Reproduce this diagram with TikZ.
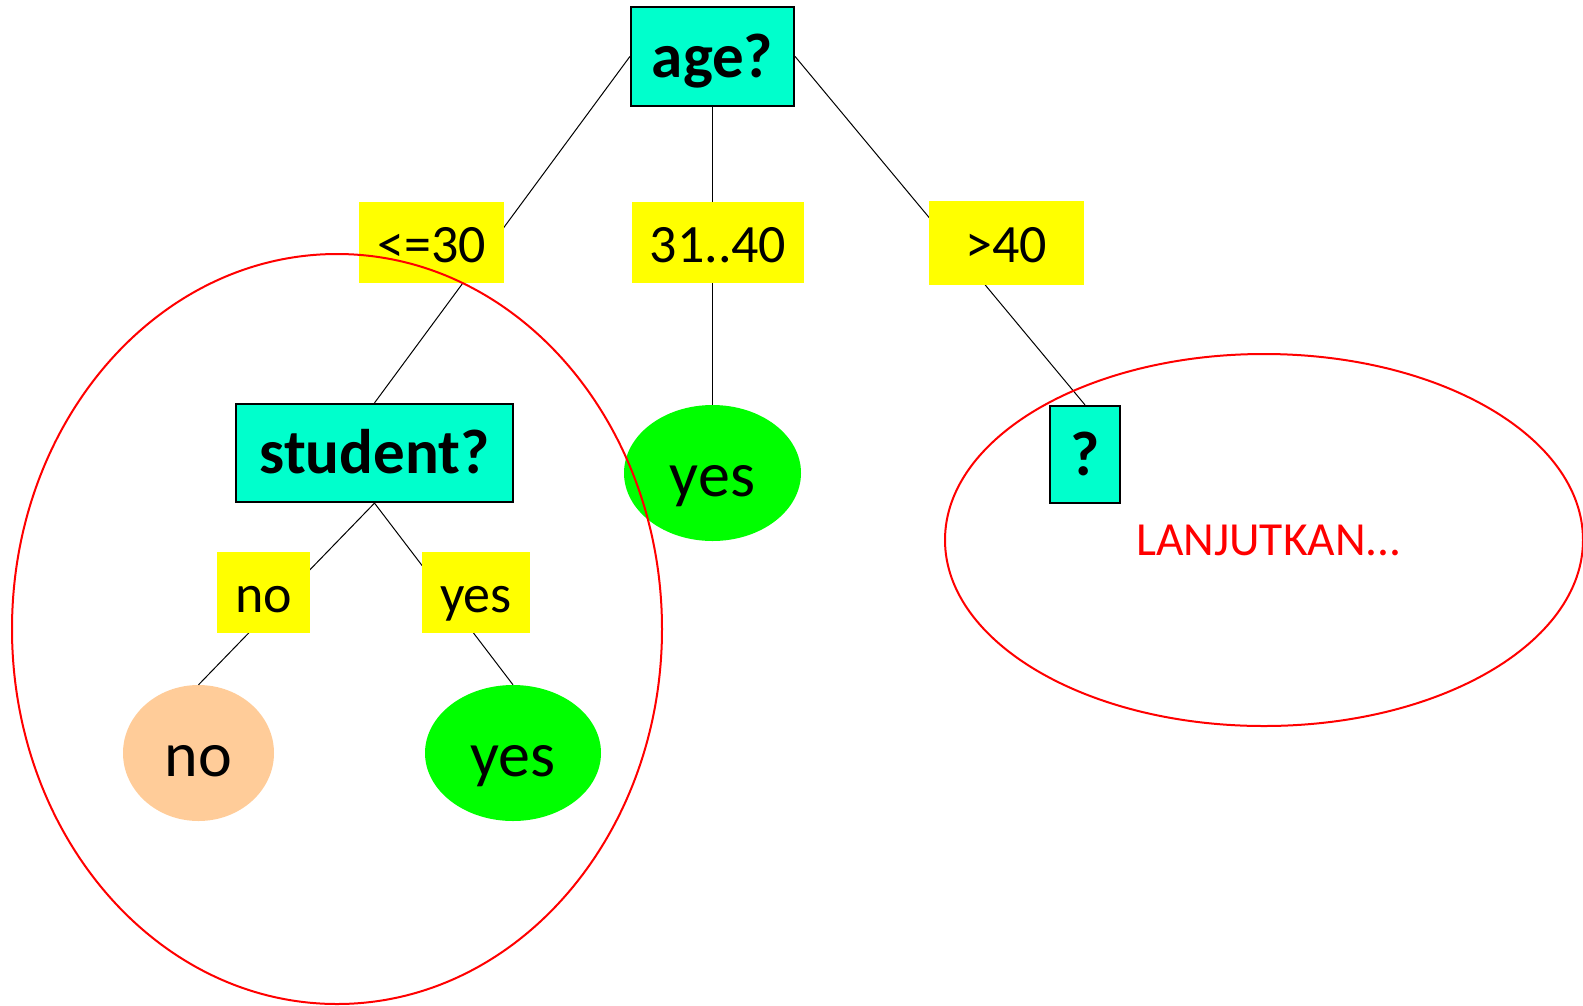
\documentclass[tikz,border=0pt]{standalone}
\usepackage{fontspec}
\setmainfont{Carlito}
\usetikzlibrary{shapes.geometric}
\definecolor{boxcyan}{HTML}{00FFCC}
\definecolor{labyellow}{HTML}{FFFF00}
\definecolor{leafgreen}{HTML}{00FF00}
\definecolor{leafpeach}{HTML}{FFCC99}
\definecolor{markred}{HTML}{FF0000}
\tikzset{
  testbox/.style={draw=black, line width=2.2pt, fill=boxcyan, inner sep=0pt,
    font=\fontsize{63}{74}\selectfont\bfseries, text height=41pt, text depth=0pt},
  branchlab/.style={fill=labyellow, inner sep=0pt,
    font=\fontsize{54}{64}\selectfont, text height=40pt, text depth=0pt},
  leafnode/.style={ellipse, inner sep=0pt,
    font=\fontsize{64}{76}\selectfont, text height=47pt, text depth=0pt},
  conn/.style={draw=black, line width=1pt},
  group/.style={draw=markred, line width=2pt}
}
\begin{document}
\begin{tikzpicture}[x=1pt, y=-1pt]
\useasboundingbox (0,0) rectangle (1583,1005);
% tree nodes
\node[testbox, minimum width=163pt, minimum height=99pt] (age) at (712.5,56.5) {age?};
\node[testbox, minimum width=277pt, minimum height=98pt] (student) at (374.5,453) {student?};
\node[testbox, minimum width=70pt, minimum height=97pt] (q) at (1085,454.5) {?};
\node[leafnode, fill=leafgreen, minimum width=177pt, minimum height=136pt] (leafmid) at (712.5,473) {yes};
\node[leafnode, fill=leafpeach, minimum width=151pt, minimum height=136pt] (leafno) at (198.5,753) {no};
\node[leafnode, fill=leafgreen, minimum width=176pt, minimum height=136pt] (leafyes) at (513,753) {yes};
% connectors
\draw[conn] (age.west) -- (student.north);
\draw[conn] (age.south) -- (leafmid.north);
\draw[conn] (age.east) -- (q.north);
\draw[conn] (student.south) -- (leafno.north);
\draw[conn] (student.south) -- (leafyes.north);
% branch labels over the connectors
\node[branchlab, minimum width=145pt, minimum height=81pt] (lle) at (431.5,242.5) {<=30};
\node[branchlab, minimum width=172pt, minimum height=81pt] (lmid) at (718,242.5) {31..40};
\node[branchlab, minimum width=155pt, minimum height=84pt] (lgt) at (1006.5,242.5) {>40};
\node[branchlab, minimum width=93pt, minimum height=81pt] (lno) at (263.5,592.5) {no};
\node[branchlab, minimum width=108pt, minimum height=81pt] (lyes) at (476,592.5) {yes};
% red groupings
\draw[group] (337,629) ellipse [x radius=325, y radius=375];
\draw[group] (1264,540) ellipse [x radius=319, y radius=186];
\node[text=markred, font=\fontsize{47.5}{56}\selectfont, anchor=base] (cont) at (1269,555) {LANJUTKAN...};
\end{tikzpicture}
\end{document}
